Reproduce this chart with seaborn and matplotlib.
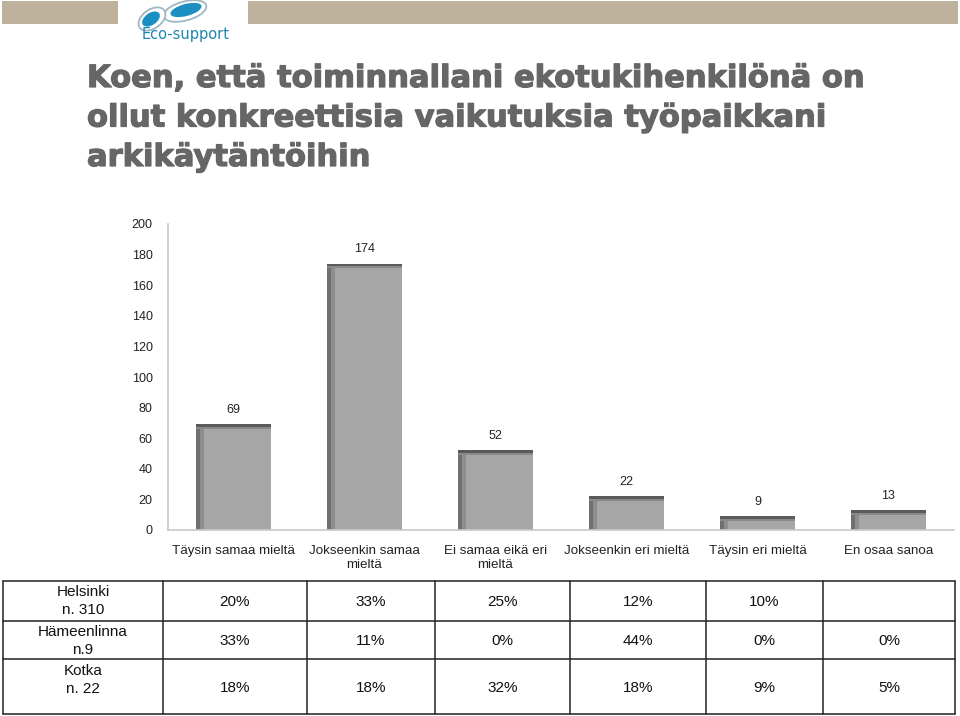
import matplotlib
matplotlib.use("Agg")
import matplotlib.pyplot as plt
from matplotlib.patches import Rectangle, Ellipse
from matplotlib.lines import Line2D
import matplotlib.patheffects as pe
import seaborn as sns
import pandas as pd

# ---- data ----
categories = ["Täysin samaa mieltä", "Jokseenkin samaa\nmieltä", "Ei samaa eikä eri\nmieltä",
              "Jokseenkin eri mieltä", "Täysin eri mieltä", "En osaa sanoa"]
counts = [69, 174, 52, 22, 9, 13]
yticks = list(range(0, 201, 20))
title_lines = ["Koen, että toiminnallani ekotukihenkilönä on",
               "ollut konkreettisia vaikutuksia työpaikkani",
               "arkikäytäntöihin"]
row_labels = ["Helsinki\nn. 310", "Hämeenlinna\nn.9", "Kotka\nn. 22"]
helsinki = ["20%", "33%", "25%", "12%", "10%", ""]
hameenlinna = ["33%", "11%", "0%", "44%", "0%", "0%"]
kotka = ["18%", "18%", "32%", "18%", "9%", "5%"]
table_rows = [helsinki, hameenlinna, kotka]

sns.set_style("white")
plt.rcParams["font.family"] = ["Liberation Sans", "DejaVu Sans"]

W, H = 960, 716
fig = plt.figure(figsize=(W / 100, H / 100), dpi=100)

def fx(x):
    return x / W

def fy(y):
    return 1 - y / H

# ---- header band ----
beige = "#bfb29c"
fig.add_artist(Rectangle((fx(2), fy(24)), fx(116), 23 / H, color=beige, transform=fig.transFigure, lw=0))
fig.add_artist(Rectangle((fx(248), fy(24)), fx(710), 23 / H, color=beige, transform=fig.transFigure, lw=0))
# logo
logo_ax = fig.add_axes([fx(125), fy(45), fx(120), 45 / H])
logo_ax.set_xlim(0, 120)
logo_ax.set_ylim(45, 0)
logo_ax.axis("off")
logo_ax.add_patch(Ellipse((60, 11), 44, 19, angle=-15, fc="white", ec="#9fb7c4", lw=1.3))
logo_ax.add_patch(Ellipse((61, 10), 32, 12, angle=-15, fc="#1b8fc2", ec="none"))
logo_ax.add_patch(Ellipse((27, 19), 30, 19, angle=-35, fc="white", ec="#9fb7c4", lw=1.3))
logo_ax.add_patch(Ellipse((26, 19), 20, 12, angle=-35, fc="#1b8fc2", ec="none"))
logo_ax.text(17, 34, "Eco-support", fontsize=10.5, color="#1f86ad",
             va="center", ha="left", family=["Liberation Sans Narrow", "DejaVu Sans"])

# ---- title ----
for i, line in enumerate(title_lines):
    fig.text(fx(87), fy(87 + i * 39.5), line, fontsize=22, fontweight="heavy",
             color="#666666", family=["DejaVu Sans"], va="baseline", ha="left",
             path_effects=[pe.withStroke(linewidth=0.9, foreground="#666666")])

# ---- bar chart ----
ax = fig.add_axes([fx(168), fy(530), fx(954 - 168), (530 - 224) / H])
df = pd.DataFrame({"cat": categories, "n": counts})
sns.barplot(data=df, x="cat", y="n", ax=ax, color="#a6a6a6", width=0.565,
            saturation=1, edgecolor="none", linewidth=0)
ax.set_ylim(0, 200)
ax.set_yticks(yticks)
ax.set_xlabel("")
ax.set_ylabel("")
ax.tick_params(axis="y", length=0, labelsize=9, colors="#222222", pad=11)
ax.tick_params(axis="x", length=0, labelsize=9.6, colors="#222222", pad=11)
for lab in ax.get_xticklabels():
    lab.set_linespacing(1.15)
for s in ["top", "right"]:
    ax.spines[s].set_visible(False)
for s in ["left", "bottom"]:
    ax.spines[s].set_color("#c8c8c8")
    ax.spines[s].set_linewidth(1.2)

# shading on bars
for p in ax.patches[:]:
    x0, w, h = p.get_x(), p.get_width(), p.get_height()
    z = p.get_zorder()
    ax.add_patch(Rectangle((x0, 0), w * 0.05, h, color="#707070", lw=0, zorder=z + 0.1))
    ax.add_patch(Rectangle((x0 + w * 0.05, 0), w * 0.05, h, color="#8e8e8e", lw=0, zorder=z + 0.1))
    ax.add_patch(Rectangle((x0, h - 1.6), w, 1.6, color="#5a5a5a", lw=0, zorder=z + 0.2))
    ax.add_patch(Rectangle((x0, h - 2.9), w, 1.3, color="#8a8a8a", lw=0, zorder=z + 0.2))

for c in ax.containers:
    ax.bar_label(c, labels=[str(v) for v in counts], padding=6, fontsize=9, color="#222222")

# ---- table ----
col_edges = [3, 163, 307, 435, 570, 706, 823, 955]
row_edges = [581, 621, 659, 714]
lc = "#222222"
for x in col_edges:
    fig.add_artist(Line2D([fx(x), fx(x)], [fy(row_edges[0]), fy(row_edges[-1])],
                          color=lc, lw=1.1, transform=fig.transFigure))
for y in row_edges:
    fig.add_artist(Line2D([fx(col_edges[0]), fx(col_edges[-1])], [fy(y), fy(y)],
                          color=lc, lw=1.1, transform=fig.transFigure))

label_y = [601, 641, 680]
value_y = [602, 641, 688]
for r, (lab, vals) in enumerate(zip(row_labels, table_rows)):
    fig.text(fx((col_edges[0] + col_edges[1]) / 2), fy(label_y[r]), lab, ha="center", va="center",
             fontsize=11, color="#111111", linespacing=1.3)
    for c, v in enumerate(vals):
        cx = (col_edges[c + 1] + col_edges[c + 2]) / 2
        fig.text(fx(cx), fy(value_y[r]), v, ha="center", va="center", fontsize=11, color="#111111")

fig.savefig("out.png", dpi=100)
